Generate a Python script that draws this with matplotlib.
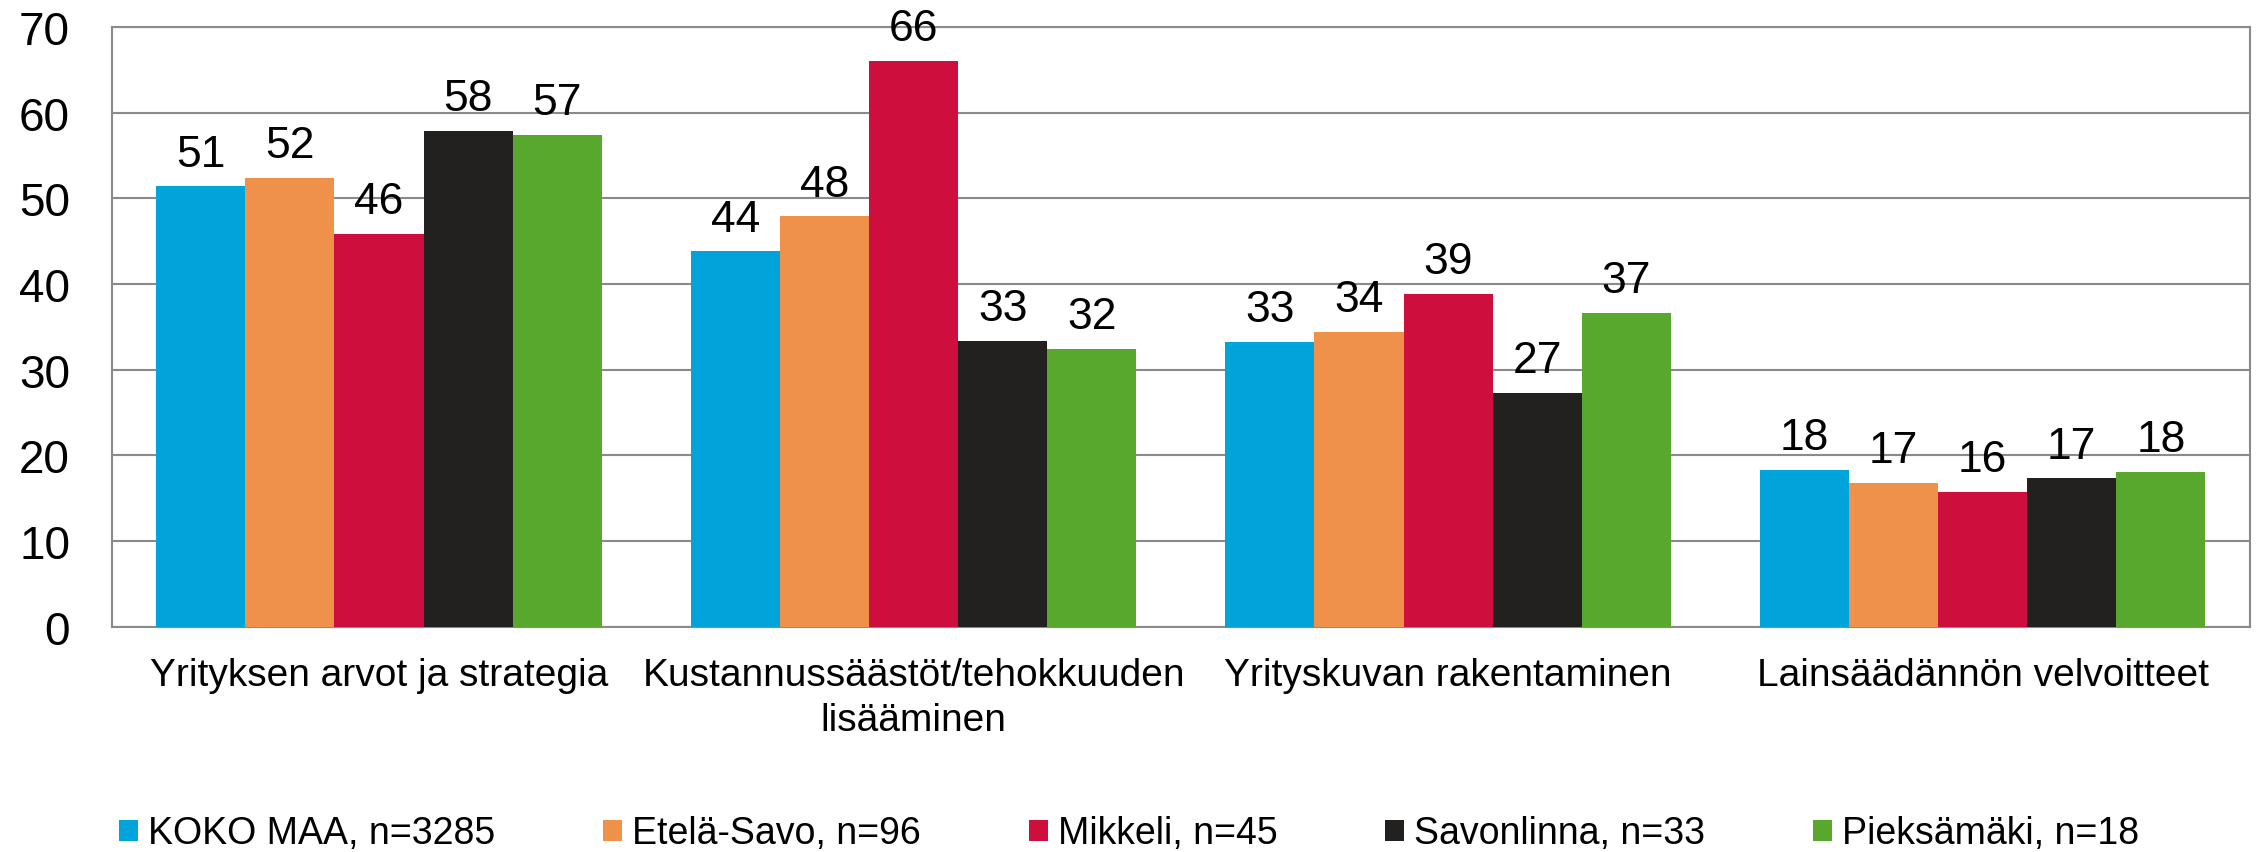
import matplotlib
matplotlib.use("Agg")
import matplotlib.pyplot as plt
import numpy as np

plt.rcParams['font.family'] = ['Liberation Sans', 'DejaVu Sans']

categories = ["Yrityksen arvot ja strategia",
              "Kustannussäästöt/tehokkuuden\nlisääminen",
              "Yrityskuvan rakentaminen",
              "Lainsäädännön velvoitteet"]
series_names = ["KOKO MAA, n=3285", "Etelä-Savo, n=96", "Mikkeli, n=45",
                "Savonlinna, n=33", "Pieksämäki, n=18"]
koko_maa = [51.4, 43.8, 33.2, 18.3]
etela_savo = [52.4, 47.9, 34.4, 16.8]
mikkeli = [45.8, 66.0, 38.8, 15.7]
savonlinna = [57.9, 33.4, 27.3, 17.3]
pieksamaki = [57.4, 32.4, 36.6, 18.1]
colors = ["#00A3DA", "#F0914B", "#CE0F3D", "#232120", "#57A82D"]
yticks = [0, 10, 20, 30, 40, 50, 60, 70]

series = [koko_maa, etela_savo, mikkeli, savonlinna, pieksamaki]

W, H = 2260, 853
fig = plt.figure(figsize=(W / 100, H / 100), dpi=100)
left, right, top, bottom = 111.7, 2250, 28, 627.7
ax = fig.add_axes([left / W, 1 - bottom / H, (right - left) / W, (bottom - top) / H])

x = np.arange(len(categories))
bw = 1 / 6
grid_c = "#8A8A8A"
for i, (vals, name, c) in enumerate(zip(series, series_names, colors)):
    pos = x + (i - 2) * bw
    ax.bar(pos, vals, width=bw, color=c, label=name, linewidth=0, zorder=3)
    for px_, v in zip(pos, vals):
        ax.annotate(f"{v:.0f}", (px_, v), xytext=(0, 15), textcoords="offset points",
                    ha="center", va="baseline", fontsize=32, color="black", zorder=4)

ax.set_xlim(-0.5, len(categories) - 0.5)
ax.set_ylim(0, 70)
ax.set_yticks(yticks)
ax.set_yticklabels([str(t) for t in yticks], fontsize=33)
ax.set_xticks(x)
ax.set_xticklabels(categories, fontsize=28, linespacing=1.35)
ax.tick_params(axis="y", length=0, pad=30)
ax.tick_params(axis="x", length=0, pad=21.5)
ax.yaxis.grid(True, color=grid_c, linewidth=1.5, zorder=0)
ax.set_axisbelow(True)
for s in ax.spines.values():
    s.set_color(grid_c)
    s.set_linewidth(1.5)

fig.legend(loc="center left", bbox_to_anchor=(119 / W, 1 - 834.5 / H), ncol=5,
           frameon=False, fontsize=27, handlelength=0.5, handleheight=0.5,
           handletextpad=0.27, columnspacing=2.88, borderpad=0, borderaxespad=0)

fig.savefig("out.png", dpi=100, facecolor="white")
